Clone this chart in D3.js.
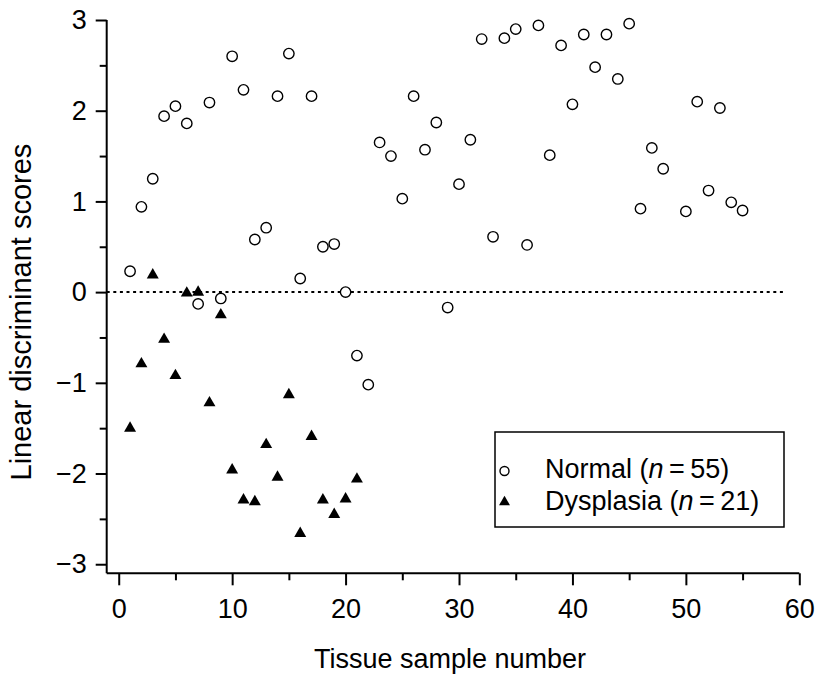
<!DOCTYPE html>
<html>
<head>
<meta charset="utf-8">
<script src="https://cdn.jsdelivr.net/npm/d3@7"></script>
<style>
  body { margin: 0; background: #fff; }
  svg { display: block; }
  text { font-family: "Liberation Sans", Arial, Helvetica, sans-serif; fill: #000; }
</style>
</head>
<body>
<svg id="chart" width="819" height="678"></svg>
<script>
// ---- Data ----
const normalSamples = [1,2,3,4,5,6,7,8,9,10,11,12,13,14,15,16,17,18,19,20,21,22,23,24,25,26,27,28,29,30,31,32,33,34,35,36,37,38,39,40,41,42,43,44,45,46,47,48,50,51,52,53,54,55];
const normalScores = [0.23,0.94,1.25,1.94,2.05,1.86,-0.13,2.09,-0.07,2.60,2.23,0.58,0.71,2.16,2.63,0.15,2.16,0.50,0.53,0.00,-0.70,-1.02,1.65,1.50,1.03,2.16,1.57,1.87,-0.17,1.19,1.68,2.79,0.61,2.80,2.90,0.52,2.94,1.51,2.72,2.07,2.84,2.48,2.84,2.35,2.96,0.92,1.59,1.36,0.89,2.10,1.12,2.03,0.99,0.90];
const dysplasiaSamples = [1,2,3,4,5,6,7,8,9,10,11,12,13,14,15,16,17,18,19,20,21];
const dysplasiaScores = [-1.49,-0.78,0.20,-0.51,-0.91,0.00,0.01,-1.21,-0.24,-1.95,-2.28,-2.30,-1.67,-2.03,-1.12,-2.65,-1.58,-2.28,-2.44,-2.27,-2.05];
const xTicks = [0,10,20,30,40,50,60];
const xMinorTicks = [5,15,25,35,45,55];
const yTicks = [3,2,1,0,-1,-2,-3];
const yMinorTicks = [2.5,1.5,0.5,-0.5,-1.5,-2.5];
const legendLabels = [
  {name: "Normal", n: "55"},
  {name: "Dysplasia", n: "21"}
];
const xTitle = "Tissue sample number";
const yTitle = "Linear discriminant scores";

// ---- Scales ----
const svg = d3.select("#chart");
const x = d3.scaleLinear().domain([-1.06, 60]).range([106.7, 799.3]);
const y = d3.scaleLinear().domain([-3.1, 3]).range([573.3, 20]);

const fmt = d => d < 0 ? "\u2212" + Math.abs(d) : String(d);

// ---- Axes ----
const gx = svg.append("g").attr("transform", `translate(0,${y(-3.1)})`);
gx.call(d3.axisBottom(x).tickValues(xTicks).tickSize(12).tickPadding(14).tickFormat(fmt));
const gxm = gx.append("g").call(d3.axisBottom(x).tickValues(xMinorTicks).tickSize(7).tickFormat(""));
gxm.select(".domain").remove();
gx.select(".domain").attr("d", `M${x(-1.06)},0H${x(60)}`);

const gy = svg.append("g").attr("transform", `translate(${x(-1.06)},0)`);
gy.call(d3.axisLeft(y).tickValues(yTicks).tickSize(11).tickPadding(9).tickFormat(fmt));
const gym = gy.append("g").call(d3.axisLeft(y).tickValues(yMinorTicks).tickSize(7).tickFormat(""));
gym.select(".domain").remove();
gy.select(".domain").attr("d", `M0,${y(3)}V${y(-3.1)}`);

svg.selectAll(".domain").attr("stroke", "#000").attr("stroke-width", 2);
svg.selectAll(".tick line").attr("stroke", "#000").attr("stroke-width", 2);
svg.selectAll(".tick text").style("font-size", "27px").attr("fill", "#000");

// ---- Zero line ----
svg.append("line")
  .attr("x1", x(-1.06)).attr("x2", x(58.8))
  .attr("y1", y(0)).attr("y2", y(0))
  .attr("stroke", "#000").attr("stroke-width", 2)
  .attr("stroke-dasharray", "3,3.6");

// ---- Points ----
const normal = normalSamples.map((s, i) => ({s, v: normalScores[i]}));
const dysplasia = dysplasiaSamples.map((s, i) => ({s, v: dysplasiaScores[i]}));

svg.append("g").selectAll("circle").data(normal).join("circle")
  .attr("cx", d => x(d.s)).attr("cy", d => y(d.v)).attr("r", 5.2)
  .attr("fill", "#fff").attr("stroke", "#000").attr("stroke-width", 1.4);

const tri = d3.symbol().type(d3.symbolTriangle).size(62);
svg.append("g").selectAll("path").data(dysplasia).join("path")
  .attr("d", tri)
  .attr("transform", d => `translate(${x(d.s)},${y(d.v) + 1})`)
  .attr("fill", "#000");

// ---- Legend ----
const lg = svg.append("g");
lg.append("rect").attr("x", 495).attr("y", 432).attr("width", 289).attr("height", 95)
  .attr("fill", "#fff").attr("stroke", "#000").attr("stroke-width", 1.5);
lg.append("circle").attr("cx", 504.5).attr("cy", 471).attr("r", 4.5)
  .attr("fill", "#fff").attr("stroke", "#000").attr("stroke-width", 1.4);
lg.append("path").attr("d", d3.symbol().type(d3.symbolTriangle).size(52))
  .attr("transform", "translate(504.5,502)").attr("fill", "#000");
legendLabels.forEach((l, i) => {
  const t = lg.append("text").attr("x", 545).attr("y", 477.5 + i * 32).style("font-size", "27px");
  t.append("tspan").text(l.name + " (");
  t.append("tspan").style("font-style", "italic").text("n");
  t.append("tspan").text("\u2009=\u2009" + l.n + ")");
});

// ---- Titles ----
svg.append("text").attr("x", 450).attr("y", 668).attr("text-anchor", "middle")
  .style("font-size", "27px").text(xTitle);
svg.append("text").attr("transform", `translate(31,${y(-0.22)}) rotate(-90)`)
  .attr("text-anchor", "middle").style("font-size", "29px").text(yTitle);
</script>
</body>
</html>
